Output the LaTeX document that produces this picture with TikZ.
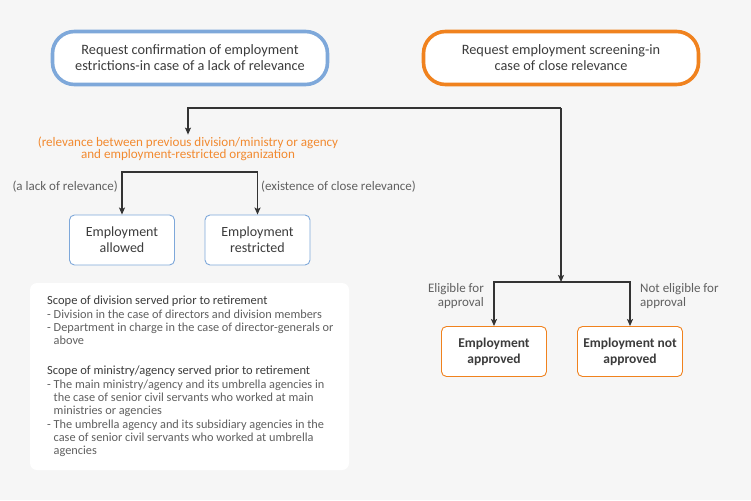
\documentclass[tikz,border=0pt]{standalone}
\usepackage{fontspec}
\setmainfont{Carlito}
\usetikzlibrary{arrows.meta,positioning}
\definecolor{bgcol}{HTML}{F6F6F6}
\definecolor{blueline}{HTML}{7EA8DA}
\definecolor{orangeline}{HTML}{F0821E}
\definecolor{orangetext}{HTML}{F28A30}
\definecolor{maintext}{HTML}{3C3C3C}
\definecolor{softtext}{HTML}{606060}
\definecolor{arrowcol}{HTML}{333333}
\tikzset{
  pill/.style={fill=white, line width=3.6pt, rounded corners=22pt, minimum width=275pt,
    minimum height=53pt, align=center, text=maintext, font=\fontsize{14.3}{16}\selectfont},
  outcome/.style={fill=white, line width=0.9pt, rounded corners=5pt, minimum width=105pt,
    minimum height=50pt, align=center, text=maintext, font=\fontsize{14}{16}\selectfont},
  branchlabel/.style={text=softtext, inner sep=0pt, align=left, font=\fontsize{13}{13.5}\selectfont},
  scopetext/.style={text=softtext, inner sep=0pt, align=left, font=\fontsize{12.3}{13.3}\selectfont},
  conn/.style={draw=arrowcol, line width=1.2pt, -{Stealth[length=7pt,width=6pt,inset=1.5pt]}},
  bar/.style={draw=arrowcol, line width=1.2pt}
}
\begin{document}
\begin{tikzpicture}[x=1pt,y=-1pt]
\fill[bgcol] (0,0) rectangle (751,500);
\useasboundingbox (0,0) rectangle (751,500);
\node[pill, draw=blueline] (lackreq) at (190,58) {Request confirmation of employment\\estrictions-in case of a lack of relevance};
\node[pill, draw=orangeline] (closereq) at (561,58) {Request employment screening-in\\case of close relevance};
\coordinate (topsplit) at (561,108);
\node[text=orangetext, align=center, inner sep=2pt, font=\fontsize{13.1}{12.5}\selectfont] (relnote) at (188,149)
  {(relevance between previous division/ministry or agency\\and employment-restricted organization};
\coordinate (relsplit) at (190,172);
\node[outcome, draw=blueline] (allowed) at (122,240) {Employment\\allowed};
\node[outcome, draw=blueline] (restricted) at (257.5,240) {Employment\\restricted};
\node[branchlabel, anchor=east] (lacklabel) at (118,187) {(a lack of relevance)};
\node[branchlabel, anchor=west] (closelabel) at (261,187) {(existence of close relevance)};
\coordinate (approvesplit) at (561,282);
\node[outcome, draw=orangeline, font=\bfseries\fontsize{13.5}{16}\selectfont] (approved) at (494,351.5) {Employment\\approved};
\node[outcome, draw=orangeline, font=\bfseries\fontsize{13.5}{16}\selectfont] (notapproved) at (630,351.5) {Employment not\\approved};
\node[branchlabel, anchor=east, align=right] (eliglabel) at (484,296) {Eligible for\\approval};
\node[branchlabel, anchor=west] (noteliglabel) at (640,296) {Not eligible for\\approval};
\draw[conn] (topsplit) -| (relnote.north);
\draw[conn] (topsplit) -- (approvesplit);
\draw[conn] (relsplit) -| (allowed.north);
\draw[conn] (relsplit) -| (restricted.north);
\draw[conn] (approvesplit) -| (approved.north);
\draw[conn] (approvesplit) -| (notapproved.north);
\fill[white, rounded corners=7pt] (30,283) rectangle (349,470);
\node[scopetext, anchor=north west] (scopediv) at (47,296)
  {{\color{maintext}\fontsize{12.5}{13.3}\selectfont Scope of division served prior to retirement}\\
   - Division in the case of directors and division members\\
   - Department in charge in the case of director-generals or\\
   \phantom{- }above};
\node[scopetext, anchor=north west] (scopemin) at (47,366)
  {{\color{maintext}\fontsize{12.5}{13.3}\selectfont Scope of ministry/agency served prior to retirement}\\
   - The main ministry/agency and its umbrella agencies in\\
   \phantom{- }the case of senior civil servants who worked at main\\
   \phantom{- }ministries or agencies\\
   - The umbrella agency and its subsidiary agencies in the\\
   \phantom{- }case of senior civil servants who worked at umbrella\\
   \phantom{- }agencies};
\end{tikzpicture}
\end{document}
